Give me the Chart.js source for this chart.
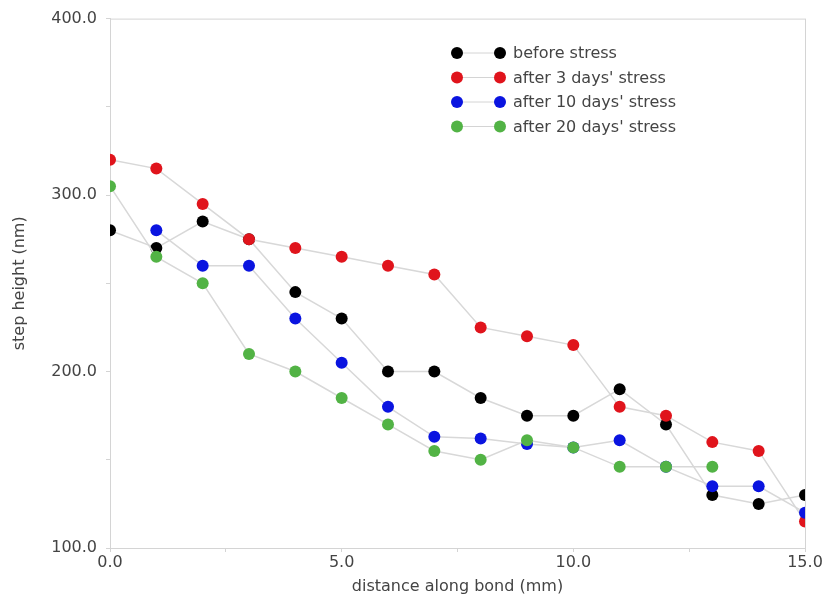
<!DOCTYPE html>
<html>
<head>
<meta charset="utf-8">
<script src="https://cdn.jsdelivr.net/npm/chart.js@4.4.1/dist/chart.umd.min.js"></script>
<style>
  html, body { margin: 0; padding: 0; background: #fff; }
  #wrap { width: 830px; height: 600px; position: relative; }
</style>
</head>
<body>
<div id="wrap"><canvas id="stepChart"></canvas></div>
<script>
// Data (null = no point there)
const distances = [0, 1, 2, 3, 4, 5, 6, 7, 8, 9, 10, 11, 12, 13, 14, 15];
const beforeStress = [280, 270, 285, 275, 245, 230, 200, 200, 185, 175, 175, 190, 170, 130, 125, 130];
const after3Days = [320, 315, 295, 275, 270, 265, 260, 255, 225, 220, 215, 180, 175, 160, 155, 115];
const after10Days = [null, 280, 260, 260, 230, 205, 180, 163, 162, 159, 157, 161, 146, 135, 135, 120];
const after20Days = [305, 265, 250, 210, 200, 185, 170, 155, 150, 161, 157, 146, 146, 146, null, null];

const seriesNames = ['before stress', "after 3 days' stress", "after 10 days' stress", "after 20 days' stress"];
const seriesColors = ['#000000', '#e0141c', '#0a14e0', '#52b345'];
const seriesValues = [beforeStress, after3Days, after10Days, after20Days];

const textColor = '#444';
const axisColor = '#d4d4d4';
const fontFamily = '"DejaVu Sans", Verdana, sans-serif';

function toPoints(values) {
  return values.map((v, i) => ({ x: distances[i], y: v }));
}

// Legend drawn inside the plot area, top right
const insideLegend = {
  id: 'insideLegend',
  afterDatasetsDraw(chart) {
    const ctx = chart.ctx;
    const x0 = 457;
    const y0 = 53;
    ctx.save();
    ctx.font = '16px ' + fontFamily;
    ctx.textBaseline = 'middle';
    seriesNames.forEach((name, i) => {
      const y = y0 + i * 24.5;
      ctx.strokeStyle = axisColor;
      ctx.lineWidth = 1;
      ctx.beginPath();
      ctx.moveTo(x0, y);
      ctx.lineTo(x0 + 43, y);
      ctx.stroke();
      ctx.fillStyle = seriesColors[i];
      [x0, x0 + 43].forEach(px => {
        ctx.beginPath();
        ctx.arc(px, y, 6, 0, Math.PI * 2);
        ctx.fill();
      });
      ctx.fillStyle = textColor;
      ctx.fillText(name, x0 + 56, y + 1);
    });
    ctx.restore();
  }
};

// Light frame round the plot area
const frame = {
  id: 'frame',
  beforeDatasetsDraw(chart) {
    const a = chart.chartArea;
    const ctx = chart.ctx;
    ctx.save();
    ctx.strokeStyle = axisColor;
    ctx.lineWidth = 1;
    ctx.strokeRect(a.left + 0.5, a.top + 0.5, a.right - a.left, a.bottom - a.top);
    ctx.restore();
  }
};

document.addEventListener('DOMContentLoaded', () => {
  const ctx = document.getElementById('stepChart');
  const datasets = seriesValues.map((vals, i) => ({
    label: seriesNames[i],
    data: toPoints(vals),
    showLine: true,
    borderColor: '#d8d8d8',
    borderWidth: 1.5,
    backgroundColor: seriesColors[i],
    pointBackgroundColor: seriesColors[i],
    pointBorderWidth: 0,
    pointRadius: 6,
    order: 4 - i
  }));

  new Chart(ctx.getContext('2d'), {
    type: 'scatter',
    data: { datasets: datasets },
    options: {
      responsive: true,
      maintainAspectRatio: false,
      animation: false,
      layout: { padding: { top: 18, right: 25, left: 0, bottom: 0 } },
      plugins: {
        legend: { display: false },
        tooltip: { enabled: false }
      },
      scales: {
        x: {
          type: 'linear',
          min: 0,
          max: 15,
          afterFit: s => { s.height = 52; },
          ticks: {
            stepSize: 2.5,
            autoSkip: false,
            maxRotation: 0,
            padding: 1,
            color: textColor,
            font: { size: 16, family: fontFamily },
            callback: v => (v % 5 === 0 ? v.toFixed(1) : '')
          },
          grid: { drawOnChartArea: false, drawTicks: true, tickLength: 4, color: axisColor },
          border: { color: axisColor },
          title: {
            display: true,
            text: 'distance along bond (mm)',
            color: textColor,
            padding: { top: 2 },
            font: { size: 16, family: fontFamily }
          }
        },
        y: {
          min: 100,
          max: 400,
          afterFit: s => { s.width = 110; },
          ticks: {
            stepSize: 50,
            padding: 9,
            color: textColor,
            font: { size: 16, family: fontFamily },
            callback: v => (v % 100 === 0 ? v.toFixed(1) : '')
          },
          grid: { drawOnChartArea: false, drawTicks: true, tickLength: 4, color: axisColor },
          border: { color: axisColor },
          title: {
            display: true,
            text: 'step height (nm)',
            color: textColor,
            padding: { top: 10, bottom: 0 },
            font: { size: 16, family: fontFamily }
          }
        }
      }
    },
    plugins: [frame, insideLegend]
  });
});
</script>
</body>
</html>
